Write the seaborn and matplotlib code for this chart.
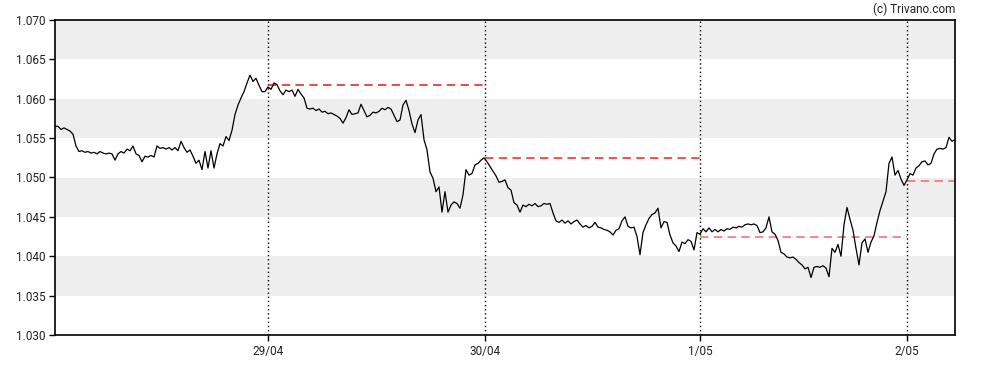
import matplotlib
matplotlib.use("Agg")
import matplotlib.pyplot as plt
import seaborn as sns
import pandas as pd
import numpy as np

# ---- data -------------------------------------------------------------
prices = [
    1.0565, 1.0565, 1.0561, 1.0563, 1.0561, 1.0559, 1.0555, 1.0540, 1.0533, 1.0534,
    1.0532, 1.0533, 1.0531, 1.0532, 1.0530, 1.0533, 1.0531, 1.0530, 1.0531, 1.0530,
    1.0522, 1.0530, 1.0533, 1.0531, 1.0536, 1.0534, 1.0540, 1.0530, 1.0528, 1.0520,
    1.0527, 1.0526, 1.0528, 1.0526, 1.0540, 1.0537, 1.0538, 1.0536, 1.0538, 1.0535,
    1.0538, 1.0534, 1.0546, 1.0538, 1.0532, 1.0535, 1.0527, 1.0518, 1.0522, 1.0510,
    1.0533, 1.0512, 1.0534, 1.0512, 1.0530, 1.0543, 1.0540, 1.0552, 1.0547, 1.0560,
    1.0580, 1.0592, 1.0601, 1.0609, 1.0620, 1.0630, 1.0622, 1.0626, 1.0617, 1.0609,
    1.0609, 1.0615, 1.0612, 1.0620, 1.0618, 1.0610, 1.0605, 1.0611, 1.0609, 1.0611,
    1.0603, 1.0612, 1.0606, 1.0601, 1.0588, 1.0587, 1.0588, 1.0585, 1.0587, 1.0583,
    1.0584, 1.0581, 1.0582, 1.0580, 1.0578, 1.0575, 1.0569, 1.0576, 1.0586, 1.0580,
    1.0581, 1.0582, 1.0593, 1.0585, 1.0577, 1.0579, 1.0583, 1.0582, 1.0584, 1.0588,
    1.0586, 1.0589, 1.0587, 1.0579, 1.0571, 1.0573, 1.0592, 1.0598, 1.0585, 1.0568,
    1.0557, 1.0573, 1.0580, 1.0548, 1.0535, 1.0507, 1.0499, 1.0482, 1.0488, 1.0456,
    1.0482, 1.0456, 1.0465, 1.0469, 1.0467, 1.0461, 1.0478, 1.0510, 1.0503, 1.0505,
    1.0516, 1.0518, 1.0522, 1.0525, 1.0520, 1.0514, 1.0508, 1.0502, 1.0494, 1.0495,
    1.0497, 1.0487, 1.0484, 1.0468, 1.0465, 1.0456, 1.0465, 1.0463, 1.0466, 1.0464,
    1.0467, 1.0463, 1.0464, 1.0467, 1.0466, 1.0467, 1.0455, 1.0445, 1.0443, 1.0446,
    1.0442, 1.0445, 1.0441, 1.0444, 1.0446, 1.0441, 1.0437, 1.0439, 1.0436, 1.0438,
    1.0443, 1.0437, 1.0436, 1.0434, 1.0433, 1.0431, 1.0427, 1.0433, 1.0435, 1.0445,
    1.0450, 1.0438, 1.0436, 1.0437, 1.0425, 1.0402, 1.0430, 1.0440, 1.0448, 1.0453,
    1.0455, 1.0461, 1.0436, 1.0444, 1.0443, 1.0427, 1.0417, 1.0413, 1.0406, 1.0418,
    1.0416, 1.0421, 1.0419, 1.0408, 1.0430, 1.0428, 1.0435, 1.0431, 1.0436, 1.0431,
    1.0434, 1.0431, 1.0434, 1.0432, 1.0435, 1.0434, 1.0437, 1.0436, 1.0438, 1.0437,
    1.0440, 1.0441, 1.0440, 1.0441, 1.0439, 1.0430, 1.0431, 1.0436, 1.0450, 1.0431,
    1.0428, 1.0420, 1.0405, 1.0403, 1.0399, 1.0398, 1.0399, 1.0396, 1.0392, 1.0389,
    1.0384, 1.0386, 1.0373, 1.0386, 1.0387, 1.0386, 1.0388, 1.0385, 1.0374, 1.0410,
    1.0405, 1.0415, 1.0400, 1.0440, 1.0462, 1.0447, 1.0433, 1.0410, 1.0389, 1.0417,
    1.0422, 1.0405, 1.0418, 1.0426, 1.0443, 1.0458, 1.0470, 1.0482, 1.0518, 1.0526,
    1.0503, 1.0509, 1.0498, 1.0490, 1.0497, 1.0505, 1.0503, 1.0512, 1.0515, 1.0520,
    1.0521, 1.0516, 1.0518, 1.0530, 1.0536, 1.0537, 1.0536, 1.0538, 1.0551, 1.0546,
    1.0548,
]
day_positions = [71, 143.3, 215, 284]
day_labels = ["29/04", "30/04", "1/05", "2/05"]
prev_close = [1.0617, 1.0525, 1.0425, 1.0495]
y_ticks = [1.030, 1.035, 1.040, 1.045, 1.050, 1.055, 1.060, 1.065, 1.070]

# ---- figure -----------------------------------------------------------
sns.set_theme(style="white")
plt.rcParams["font.family"] = ["Roboto", "DejaVu Sans"]

df = pd.DataFrame({"idx": np.arange(len(prices)), "price": prices})
x_end = len(prices) - 1

fig = plt.figure(figsize=(9.88, 3.70), dpi=100)
ax = fig.add_axes([55 / 988, 1 - 335 / 370, 900 / 988, 315 / 370])

# alternating background bands
for lo, hi in zip(y_ticks[1::2], y_ticks[2::2]):
    ax.axhspan(lo, hi, color="#eeeeee", lw=0, zorder=0)

# day separators
for p in day_positions:
    ax.axvline(p, color="black", lw=1.0, ls=(0, (1, 2)), zorder=1)

# previous-close levels
ends = day_positions[1:] + [x_end]
colors = ["#e8191b", "#ee2222", "#f36b6b", "#f36b6b"]
for start, end, lvl, c in zip(day_positions, ends, prev_close, colors):
    ax.plot([start, end], [lvl, lvl], color=c, lw=1.1, ls=(0, (5.5, 3.5)), zorder=2)

sns.lineplot(data=df, x="idx", y="price", ax=ax, color="black", lw=0.9, zorder=3)

ax.set_xlim(0, x_end)
ax.set_ylim(1.030, 1.070)
ax.set_yticks(y_ticks)
ax.set_yticklabels([f"{t:.3f}" for t in y_ticks])
ax.set_xticks(day_positions)
ax.set_xticklabels(day_labels)
ax.set_xlabel("")
ax.set_ylabel("")
ax.tick_params(axis="both", which="both", direction="out", length=4, width=1,
               colors="black", labelsize=8.5, labelcolor="#222222", pad=3, left=True, bottom=True)
for s in ax.spines.values():
    s.set_visible(True)
    s.set_color("black")
    s.set_linewidth(1.2)
ax.grid(False)

fig.text(955 / 988, 1 - 9 / 370, "(c) Trivano.com", ha="right", va="center",
         fontsize=8.5, color="#222222")

fig.savefig("out.png", dpi=100)
